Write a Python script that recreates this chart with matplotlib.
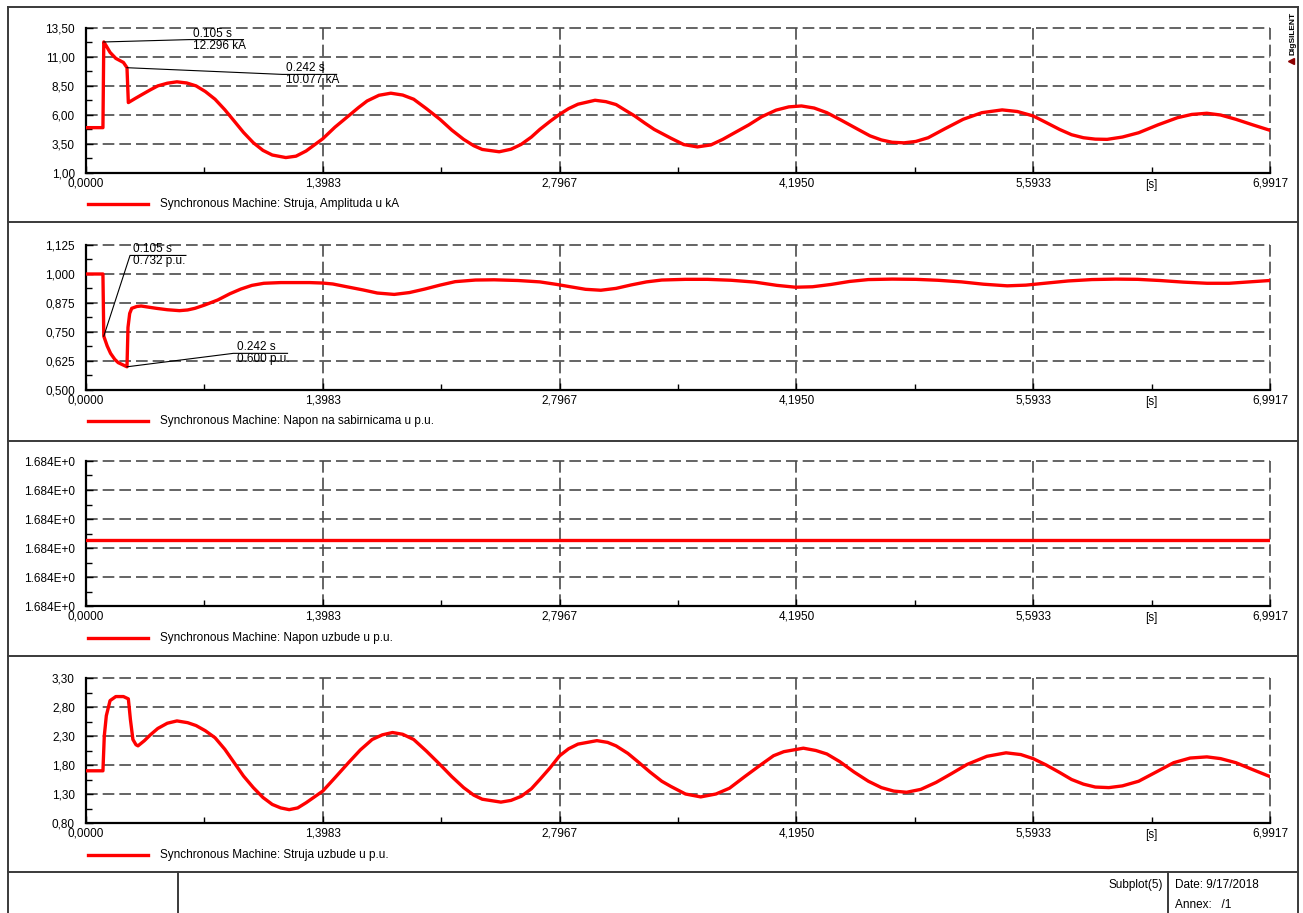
import matplotlib

matplotlib.use("Agg")
import matplotlib.pyplot as plt
from matplotlib.lines import Line2D
from matplotlib.ticker import FixedLocator, FixedFormatter

plt.rcParams["font.family"] = ["Liberation Sans", "DejaVu Sans"]

W, H = 1303, 913
FONT = 8.5
RED = "#ff0000"
GRID = "#4a4a4a"

X_TICKS = [0.0, 1.3983, 2.7967, 4.1950, 5.5933, 6.9917]
X_TICK_LABELS = ["0,0000", "1,3983", "2,7967", "4,1950", "5,5933", "6,9917"]

# --- panel 1: stator current amplitude, kA
current_t = [0.0, 0.100, 0.105, 0.120, 0.142, 0.176, 0.221, 0.242, 0.250, 0.290,
             0.334, 0.380, 0.424, 0.480, 0.537, 0.595, 0.650, 0.705, 0.762, 0.820,
             0.875, 0.930, 0.988, 1.045, 1.100, 1.180, 1.240, 1.300, 1.398, 1.470,
             1.550, 1.610, 1.660, 1.730, 1.800, 1.870, 1.935, 2.010, 2.090, 2.160,
             2.230, 2.290, 2.340, 2.440, 2.510, 2.570, 2.630, 2.680, 2.740, 2.797,
             2.850, 2.905, 3.006, 3.070, 3.130, 3.180, 3.240, 3.300, 3.355, 3.454,
             3.530, 3.610, 3.690, 3.760, 3.840, 3.914, 3.990, 4.075, 4.150, 4.225,
             4.300, 4.375, 4.460, 4.559, 4.630, 4.697, 4.760, 4.830, 4.900, 4.973,
             5.070, 5.180, 5.290, 5.410, 5.500, 5.593, 5.670, 5.750, 5.820, 5.890,
             5.960, 6.030, 6.120, 6.216, 6.330, 6.446, 6.530, 6.619, 6.700, 6.790,
             6.890, 6.9917]
current_kA = [4.91, 4.91, 12.30, 11.95, 11.40, 10.88, 10.53, 10.08, 7.07, 7.42,
              7.79, 8.17, 8.51, 8.74, 8.86, 8.76, 8.51, 8.02, 7.36, 6.45,
              5.48, 4.50, 3.61, 2.95, 2.55, 2.33, 2.45, 2.90, 3.95, 4.95,
              5.92, 6.65, 7.21, 7.70, 7.88, 7.72, 7.36, 6.55, 5.63, 4.70,
              3.90, 3.35, 3.03, 2.83, 3.05, 3.47, 4.10, 4.76, 5.45, 6.06,
              6.55, 6.93, 7.27, 7.15, 6.90, 6.45, 5.92, 5.30, 4.76, 4.00,
              3.45, 3.25, 3.42, 3.90, 4.55, 5.15, 5.85, 6.42, 6.70, 6.78,
              6.60, 6.20, 5.55, 4.76, 4.20, 3.85, 3.65, 3.60, 3.72, 4.04,
              4.80, 5.63, 6.20, 6.44, 6.30, 5.92, 5.35, 4.75, 4.30, 4.04,
              3.92, 3.90, 4.10, 4.47, 5.15, 5.77, 6.05, 6.15, 6.00, 5.63,
              5.15, 4.68]

# --- panel 2: bus voltage, p.u.
voltage_t = [0.0, 0.100, 0.105, 0.125, 0.145, 0.170, 0.190, 0.242, 0.248, 0.258,
             0.270, 0.300, 0.326, 0.370, 0.416, 0.480, 0.552, 0.600, 0.643, 0.700,
             0.778, 0.850, 0.914, 0.980, 1.050, 1.150, 1.320, 1.398, 1.457, 1.540,
             1.638, 1.720, 1.820, 1.910, 2.000, 2.090, 2.180, 2.300, 2.410, 2.550,
             2.680, 2.780, 2.860, 2.950, 3.040, 3.130, 3.220, 3.310, 3.400, 3.540,
             3.670, 3.810, 3.950, 4.080, 4.190, 4.290, 4.400, 4.510, 4.620, 4.760,
             4.900, 5.030, 5.170, 5.300, 5.440, 5.550, 5.660, 5.800, 5.940, 6.080,
             6.210, 6.340, 6.480, 6.620, 6.750, 6.870, 6.9917]
voltage_pu = [1.000, 1.000, 0.732, 0.690, 0.658, 0.632, 0.618, 0.600, 0.770, 0.830,
              0.852, 0.860, 0.862, 0.857, 0.852, 0.846, 0.842, 0.845, 0.852, 0.866,
              0.888, 0.915, 0.935, 0.951, 0.960, 0.963, 0.963, 0.961, 0.957, 0.945,
              0.931, 0.918, 0.912, 0.920, 0.935, 0.952, 0.967, 0.974, 0.975, 0.972,
              0.966, 0.955, 0.945, 0.934, 0.930, 0.938, 0.953, 0.966, 0.974, 0.977,
              0.977, 0.973, 0.965, 0.951, 0.943, 0.945, 0.955, 0.968, 0.976, 0.978,
              0.977, 0.973, 0.966, 0.956, 0.949, 0.952, 0.960, 0.970, 0.976, 0.978,
              0.977, 0.972, 0.965, 0.960, 0.960, 0.966, 0.972]

# --- panel 3: excitation voltage, p.u. (constant)
excitation_t = [0.0, 6.9917]
excitation_pu = [1.684, 1.684]

# --- panel 4: field current, p.u.
field_t = [0.000, 0.100, 0.104, 0.108, 0.120, 0.142, 0.176, 0.221, 0.250, 0.255,
           0.262, 0.277, 0.295, 0.307, 0.345, 0.380, 0.424, 0.480, 0.537, 0.600,
           0.650, 0.705, 0.762, 0.820, 0.875, 0.930, 0.988, 1.045, 1.100, 1.150,
           1.200, 1.250, 1.300, 1.398, 1.470, 1.550, 1.620, 1.690, 1.750, 1.810,
           1.870, 1.935, 2.010, 2.090, 2.160, 2.230, 2.290, 2.340, 2.450, 2.510,
           2.570, 2.630, 2.680, 2.740, 2.797, 2.850, 2.905, 3.017, 3.080, 3.130,
           3.200, 3.266, 3.330, 3.400, 3.454, 3.540, 3.630, 3.720, 3.800, 3.890,
           3.983, 4.060, 4.121, 4.236, 4.310, 4.375, 4.450, 4.535, 4.620, 4.697,
           4.770, 4.846, 4.930, 5.020, 5.110, 5.203, 5.320, 5.433, 5.520, 5.593,
           5.670, 5.750, 5.820, 5.890, 5.960, 6.040, 6.120, 6.216, 6.320, 6.423,
           6.520, 6.619, 6.700, 6.790, 6.890, 6.9917]
field_pu = [1.70, 1.70, 2.00, 2.30, 2.65, 2.91, 2.98, 2.98, 2.94, 2.80,
            2.59, 2.24, 2.15, 2.13, 2.22, 2.32, 2.43, 2.52, 2.56, 2.53,
            2.48, 2.39, 2.27, 2.07, 1.84, 1.61, 1.41, 1.24, 1.12, 1.06,
            1.03, 1.06, 1.15, 1.35, 1.58, 1.84, 2.06, 2.24, 2.32, 2.36,
            2.33, 2.24, 2.04, 1.81, 1.60, 1.41, 1.28, 1.21, 1.16, 1.19,
            1.26, 1.39, 1.55, 1.75, 1.96, 2.08, 2.16, 2.22, 2.19, 2.13,
            2.00, 1.84, 1.68, 1.52, 1.43, 1.30, 1.25, 1.30, 1.40, 1.60,
            1.80, 1.96, 2.03, 2.09, 2.05, 1.99, 1.86, 1.68, 1.52, 1.41,
            1.35, 1.33, 1.38, 1.50, 1.65, 1.81, 1.95, 2.01, 1.98, 1.91,
            1.80, 1.67, 1.55, 1.47, 1.42, 1.41, 1.44, 1.52, 1.68, 1.84,
            1.92, 1.94, 1.91, 1.84, 1.72, 1.60]

current_ticks = [1.0, 3.5, 6.0, 8.5, 11.0, 13.5]
current_labels = ["1,00", "3,50", "6,00", "8,50", "11,00", "13,50"]
voltage_ticks = [0.5, 0.625, 0.75, 0.875, 1.0, 1.125]
voltage_labels = ["0,500", "0,625", "0,750", "0,875", "1,000", "1,125"]
excitation_ticks = [1.684 - 0.0000455 + k * 0.00002 for k in range(6)]
excitation_labels = ["1.684E+0"] * 6
field_ticks = [0.8, 1.3, 1.8, 2.3, 2.8, 3.3]
field_labels = ["0,80", "1,30", "1,80", "2,30", "2,80", "3,30"]

legend_texts = [
    "Synchronous Machine: Struja, Amplituda u kA",
    "Synchronous Machine: Napon na sabirnicama u p.u.",
    "Synchronous Machine: Napon uzbude u p.u.",
    "Synchronous Machine: Struja uzbude u p.u.",
]


def fx(px):
    return px / W


def fy(py):
    return 1 - py / H


def hline(fig, x0, x1, y, lw=1.4, color="#3a3a3a"):
    fig.add_artist(Line2D([fx(x0), fx(x1)], [fy(y), fy(y)], color=color, lw=lw))


def vline(fig, x, y0, y1, lw=1.4, color="#3a3a3a"):
    fig.add_artist(Line2D([fx(x), fx(x)], [fy(y0), fy(y1)], color=color, lw=lw))


def style_axes(ax, yticks, ylabels):
    for side in ("top", "right"):
        ax.spines[side].set_visible(False)
    for side in ("left", "bottom"):
        ax.spines[side].set_linewidth(1.6)
        ax.spines[side].set_color("black")
    ax.set_xlim(0, X_TICKS[-1])
    ax.set_ylim(yticks[0], yticks[-1])
    ax.xaxis.set_major_locator(FixedLocator(X_TICKS))
    ax.xaxis.set_major_formatter(FixedFormatter(X_TICK_LABELS))
    ax.xaxis.set_minor_locator(FixedLocator([(a + b) / 2 for a, b in zip(X_TICKS[:-1], X_TICKS[1:])]))
    ax.yaxis.set_major_locator(FixedLocator(yticks))
    ax.yaxis.set_major_formatter(FixedFormatter(ylabels))
    ax.yaxis.set_minor_locator(FixedLocator([(a + b) / 2 for a, b in zip(yticks[:-1], yticks[1:])]))
    ax.tick_params(axis="both", which="both", direction="in", color="black", width=1.0,
                   labelsize=FONT)
    ax.tick_params(axis="both", which="major", length=5)
    ax.tick_params(axis="both", which="minor", length=4)
    ax.tick_params(axis="y", pad=8)
    ax.tick_params(axis="x", pad=3)
    ax.grid(True, which="major", color=GRID, lw=1.2, ls=(0, (7, 3)))
    for gl in ax.get_xgridlines() + ax.get_ygridlines():
        gl.set_clip_on(False)
    ax.text(6.2925, -0.04, "[s]", transform=ax.get_xaxis_transform(), ha="center", va="top",
            fontsize=FONT)
    ax.set_facecolor("none")


def annotate(ax, point, corner, end, top, bottom):
    ax.plot([point[0], corner[0], end], [point[1], corner[1], corner[1]], color="black", lw=0.8,
            zorder=5, clip_on=False)
    mid = corner[0] + 0.02
    ax.text(mid, corner[1], top, ha="left", va="bottom", fontsize=FONT, zorder=6)
    ax.text(mid, corner[1], bottom, ha="left", va="top", fontsize=FONT, zorder=6)


fig = plt.figure(figsize=(W / 100, H / 100), dpi=100)
fig.patch.set_facecolor("white")

ax_left, ax_right = 86, 1270
panels = [
    (28, 173, current_t, current_kA, current_ticks, current_labels),
    (245, 390, voltage_t, voltage_pu, voltage_ticks, voltage_labels),
    (461, 606, excitation_t, excitation_pu, excitation_ticks, excitation_labels),
    (678, 823, field_t, field_pu, field_ticks, field_labels),
]
legend_y = [204, 421, 638, 855]

axes = []
for (top, bottom, t, v, yt, yl), ly, label in zip(panels, legend_y, legend_texts):
    ax = fig.add_axes([fx(ax_left), fy(bottom), fx(ax_right - ax_left), (bottom - top) / H])
    style_axes(ax, yt, yl)
    ax.plot(t, v, color=RED, lw=2.4, solid_joinstyle="round", zorder=4)
    axes.append(ax)
    fig.add_artist(Line2D([fx(88), fx(148)], [fy(ly), fy(ly)], color=RED, lw=2.4))
    fig.text(fx(160), fy(ly), label, ha="left", va="center", fontsize=FONT)

# value markers
annotate(axes[0], (0.105, 12.296), (0.61, 12.50), 0.93, "0.105 s", "12.296 kA")
annotate(axes[0], (0.242, 10.077), (1.16, 9.50), 1.48, "0.242 s", "10.077 kA")
annotate(axes[1], (0.105, 0.732), (0.26, 1.080), 0.59, "0.105 s", "0.732 p.u.")
annotate(axes[1], (0.242, 0.600), (0.87, 0.658), 1.19, "0.242 s", "0.600 p.u.")

# page frame
hline(fig, 8, 1298, 7)
vline(fig, 8, 7, 913)
vline(fig, 1298, 7, 913)
for y in (222, 441, 656, 872):
    hline(fig, 8, 1298, y)
vline(fig, 178, 872, 913)
vline(fig, 1168, 872, 913)

fig.text(fx(1163), fy(885), "Subplot(5)", ha="right", va="center", fontsize=FONT)
fig.text(fx(1175), fy(885), "Date: 9/17/2018", ha="left", va="center", fontsize=FONT)
fig.text(fx(1175), fy(905), "Annex:   /1", ha="left", va="center", fontsize=FONT)

# logo
fig.text(fx(1293), fy(33), "DIgSILENT", rotation=90, ha="center", va="center",
         fontsize=6, fontweight="bold")
fig.add_artist(Line2D([fx(1291)], [fy(61)], marker="<", color="#8b0000", markersize=4,
                      transform=fig.transFigure))

fig.savefig("out.png", dpi=100)
